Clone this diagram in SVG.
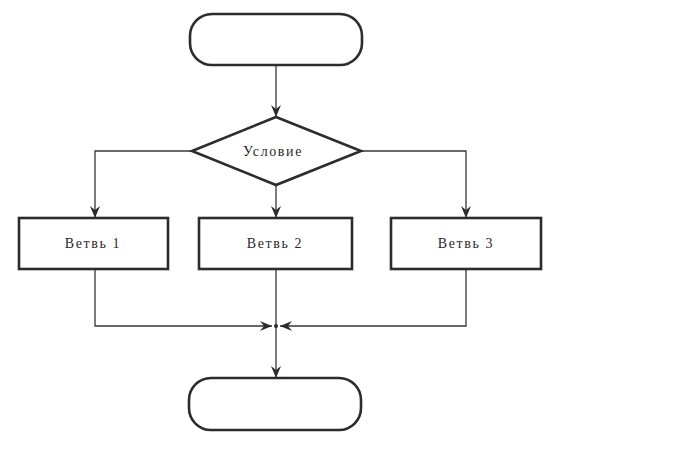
<svg xmlns="http://www.w3.org/2000/svg" width="686" height="455" viewBox="0 0 686 455">
<style>
.shape{fill:#fff;stroke:#2e2b2b;stroke-width:2.6}
.conn{fill:none;stroke:#3a3636;stroke-width:1.3}
.lbl{font-family:"Liberation Serif","DejaVu Serif",serif;font-size:14px;fill:#2a2727;text-anchor:middle;letter-spacing:1.6px}
</style>
<defs>
<marker id="arr" viewBox="0 0 12 10" refX="12" refY="5" markerWidth="12" markerHeight="10" markerUnits="userSpaceOnUse" orient="auto">
<path d="M0,0 L12,5 L0,10 L4,5 Z" fill="#2e2b2b"/>
</marker>
</defs>
<rect width="686" height="455" fill="#fff"/>
<g id="connectors">
<path class="conn" d="M276,66 V117" marker-end="url(#arr)"/>
<path class="conn" d="M192,151 H95 V218" marker-end="url(#arr)"/>
<path class="conn" d="M276,185 V218" marker-end="url(#arr)"/>
<path class="conn" d="M361,151 H466 V218" marker-end="url(#arr)"/>
<path class="conn" d="M95,269 V326 H272" marker-end="url(#arr)"/>
<path class="conn" d="M466,269 V326 H280" marker-end="url(#arr)"/>
<path class="conn" d="M276,269 V378" marker-end="url(#arr)"/>
<circle cx="276" cy="326" r="2" fill="#2e2b2b"/>
</g>
<g id="start">
<rect class="shape" x="190" y="14" width="172" height="51" rx="22" ry="22"/>
</g>
<g id="condition">
<polygon class="shape" points="276,117 361,151 276,185 192,151"/>
<text class="lbl" x="273" y="156">Условие</text>
</g>
<g id="branch1">
<rect class="shape" x="19" y="218" width="149" height="51"/>
<text class="lbl" x="93" y="248">Ветвь 1</text>
</g>
<g id="branch2">
<rect class="shape" x="199" y="218" width="153" height="51"/>
<text class="lbl" x="275" y="248">Ветвь 2</text>
</g>
<g id="branch3">
<rect class="shape" x="391" y="218" width="150" height="51"/>
<text class="lbl" x="466" y="248">Ветвь 3</text>
</g>
<g id="end">
<rect class="shape" x="189" y="378" width="172" height="52" rx="22" ry="22"/>
</g>
</svg>
